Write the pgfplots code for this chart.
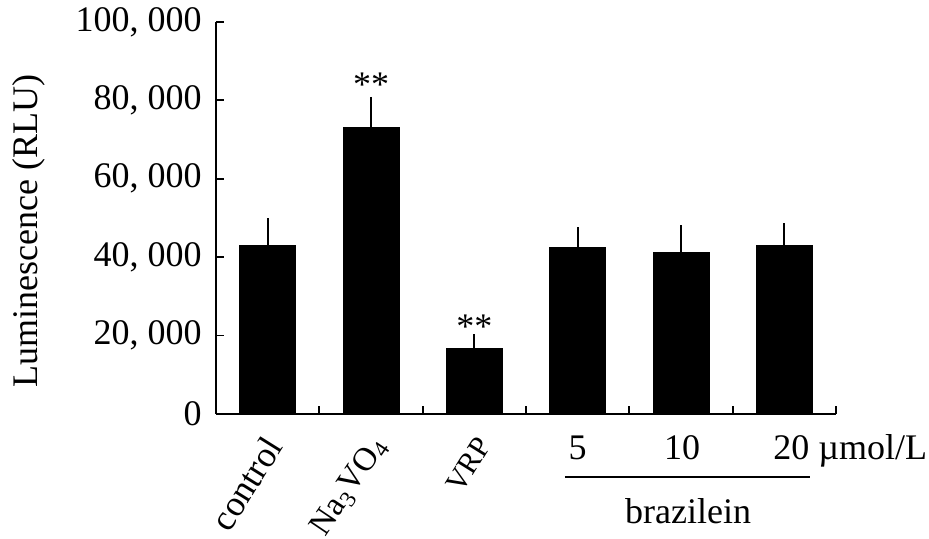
\documentclass[border=0pt]{standalone}
\usepackage{fontspec}
\setmainfont{Liberation Serif}
\usepackage{pgfplots}
\pgfplotsset{compat=1.18}
\begin{document}
\fontsize{18pt}{21pt}\selectfont
\begin{tikzpicture}
\useasboundingbox (-108pt,-62.5pt) rectangle (356.5pt,207pt);
\begin{axis}[
  at={(0,0)}, anchor=south west,
  scale only axis,
  width=310pt, height=196pt,
  xmin=-0.5, xmax=5.5,
  ymin=0, ymax=100000,
  scaled y ticks=false,
  axis lines*=left,
  axis line style={line width=1pt},
  every tick/.style={black, line width=0.9pt},
  tick align=inside,
  major tick length=4pt,
  xtick={-0.5,0.5,1.5,2.5,3.5,4.5,5.5},
  xticklabels={},
  ytick={0,20000,40000,60000,80000,100000},
  yticklabels={0,{20, 000},{40, 000},{60, 000},{80, 000},{100, 000}},
  yticklabel style={font=\fontsize{18pt}{21pt}\selectfont, inner sep=0pt, xshift=-7pt},
  clip=false,
]
\addplot[ybar, bar width=0.54, fill=black, draw=black,
  error bars/.cd, y dir=plus, y explicit,
  error bar style={line width=1pt, black},
  error mark options={line width=1pt, mark size=2.5pt, black}]
  coordinates {
    (0,42900) +- (0,5800)
    (1,73000) +- (0,6600)
    (2,16800) +- (0,2300)
    (3,42400) +- (0,4000)
    (4,41300) +- (0,5600)
    (5,42900) +- (0,4500)
  };
% significance marks
\node[anchor=base] at (axis cs:1,80900) {**};
\node[anchor=base] at (axis cs:2,19300) {**};
% rotated category labels
\node[xshift=3pt, yshift=-13pt, rotate=58, anchor=east, inner sep=0pt] at (axis cs:0,0) {control};
\node[xshift=5pt, yshift=-13pt, rotate=56, anchor=east, inner sep=0pt, font=\fontsize{16.5pt}{19pt}\selectfont] at (axis cs:1,0) {Na\textsubscript{3}VO\textsubscript{4}};
\node[xshift=5pt, yshift=-13pt, rotate=58, anchor=east, inner sep=0pt, font=\fontsize{15pt}{17pt}\selectfont] at (axis cs:2,0) {VRP};
% brazilein doses
\node[yshift=-23pt, anchor=base, inner sep=0pt] at (axis cs:3.0,0) {5};
\node[yshift=-23pt, anchor=base, inner sep=0pt] at (axis cs:4.01,0) {10};
\node[yshift=-23pt, anchor=base west, inner sep=0pt] at (axis cs:4.89,0) {20 µmol/L};
\draw[line width=1pt] ([yshift=-31.5pt]axis cs:2.877,0) -- ([yshift=-31.5pt]axis cs:5.249,0);
\node[yshift=-54.5pt, anchor=base, inner sep=0pt] at (axis cs:4.068,0) {brazilein};
% y label
\node[xshift=-93.5pt, rotate=90, inner sep=0pt] at (axis cs:-0.5,46700) {Luminescence (RLU)};
\end{axis}
\end{tikzpicture}
\end{document}
